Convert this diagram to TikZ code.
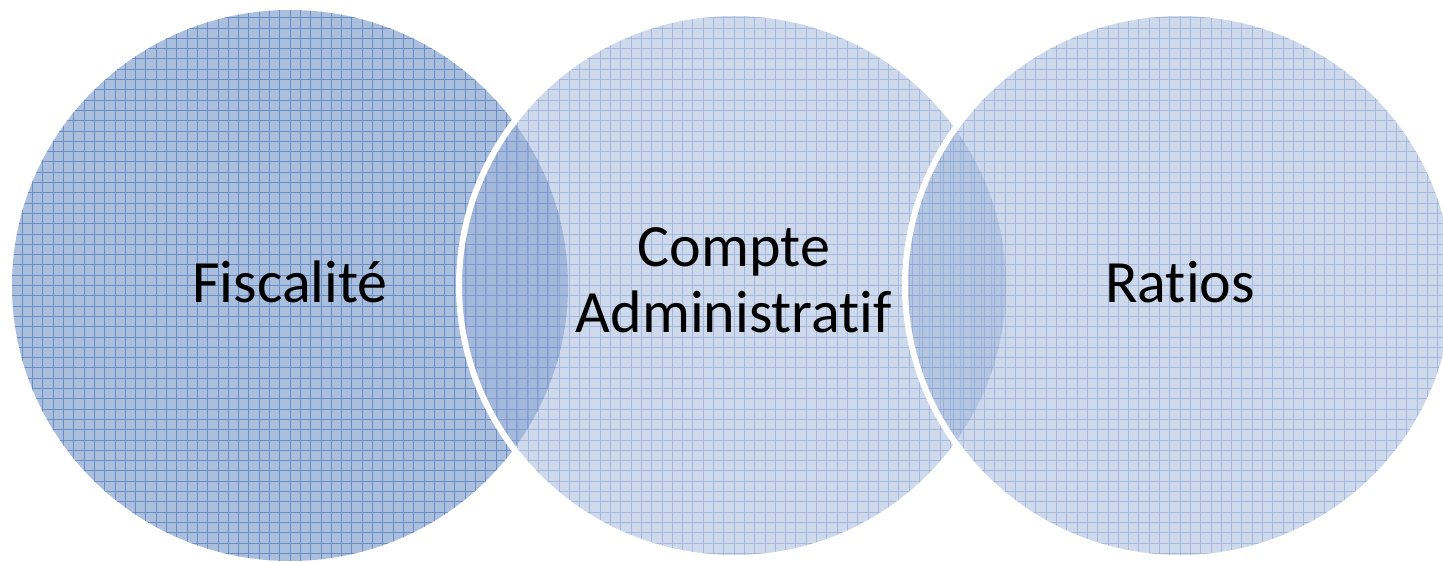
\documentclass[tikz,border=0pt]{standalone}
\usepackage{fontspec}
\setmainfont[Ligatures=NoCommon]{Carlito}
\usetikzlibrary{shapes.geometric}
\begin{document}
\begin{tikzpicture}[x=1pt,y=1pt,
  leftcircle/.style={ellipse, minimum width=556pt, minimum height=551pt, inner sep=0pt, fill=leftfill,
    path picture={\draw[leftgrid, line width=0.8pt, step=10.3pt]
      (path picture bounding box.south west) grid (path picture bounding box.north east);}},
  lightcircle/.style={ellipse, minimum width=550pt, minimum height=545pt, inner sep=0pt, fill=lightfill, fill opacity=0.5,
    draw=white, line width=6pt,
    path picture={\draw[lightgrid, line width=0.8pt, step=10.3pt, opacity=0.5]
      (path picture bounding box.south west) grid (path picture bounding box.north east);}},
  lbl/.style={font=\fontsize{60}{66}\selectfont, text=black, inner sep=0pt}]
\definecolor{leftfill}{RGB}{170,191,222}
\definecolor{leftgrid}{RGB}{108,140,196}
\definecolor{lightfill}{RGB}{157,179,216}
\definecolor{lightgrid}{RGB}{125,154,209}
\useasboundingbox (0,0) rectangle (1443,562);
\node[leftcircle] (fisc) at (290,276.5) {};
\node[lightcircle] (compte) at (734,276.5) {};
\node[lightcircle] (ratios) at (1180,276.5) {};
\node[lbl, anchor=base] (tfisc) at ([yshift=-17.5pt]fisc.center) {Fiscalité};
\node[lbl, anchor=base, align=center] (tcompte) at ([yshift=-47.5pt]compte.center) {Compte\\Administratif};
\node[lbl, anchor=base] (tratios) at ([yshift=-17.5pt]ratios.center) {Ratios};
\end{tikzpicture}
\end{document}
